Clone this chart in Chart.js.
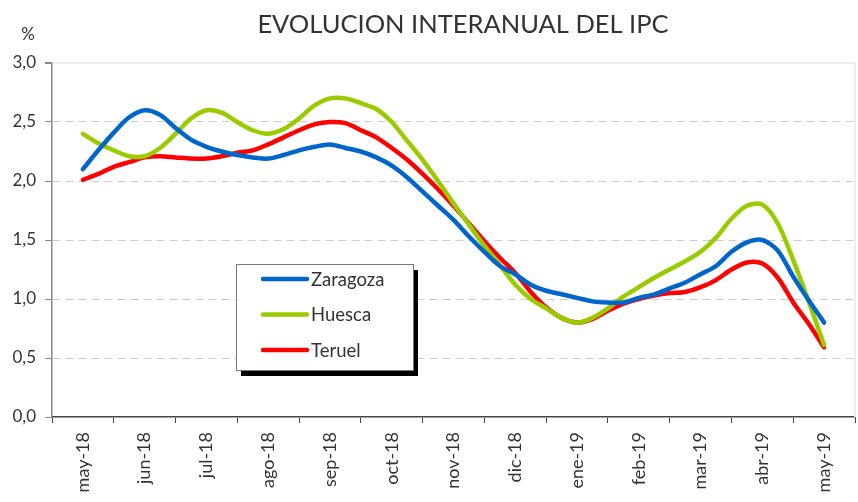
<!DOCTYPE html>
<html>
<head>
<meta charset="utf-8">
<script src="https://cdn.jsdelivr.net/npm/chart.js@4"></script>
<style>
  html, body { margin: 0; padding: 0; background: #fff; }
  #wrap { width: 858px; height: 502px; }
</style>
</head>
<body>
<div id="wrap"><canvas id="ipcChart"></canvas></div>
<script>
// Month labels on the x axis
const months = ['may-18', 'jun-18', 'jul-18', 'ago-18', 'sep-18', 'oct-18', 'nov-18',
                'dic-18', 'ene-19', 'feb-19', 'mar-19', 'abr-19', 'may-19'];

// Position of each reading, in months from may-18 (one reading per quarter month)
const steps = [0, 0.25, 0.5, 0.75, 1, 1.25, 1.5, 1.75, 2, 2.25, 2.5, 2.75, 3, 3.25, 3.5, 3.75,
               4, 4.25, 4.5, 4.75, 5, 5.25, 5.5, 5.75, 6, 6.25, 6.5, 6.75, 7, 7.25, 7.5, 7.75,
               8, 8.25, 8.5, 8.75, 9, 9.25, 9.5, 9.75, 10, 10.25, 10.5, 10.75, 11, 11.25, 11.5, 11.75, 12];

const zaragoza = [2.10, 2.26, 2.41, 2.54, 2.60, 2.56, 2.45, 2.35, 2.29, 2.25, 2.22, 2.20, 2.19, 2.22, 2.26, 2.29,
                  2.31, 2.28, 2.25, 2.20, 2.13, 2.03, 1.91, 1.79, 1.67, 1.53, 1.40, 1.28, 1.21, 1.12, 1.07, 1.04,
                  1.01, 0.98, 0.97, 0.97, 1.01, 1.04, 1.09, 1.14, 1.21, 1.28, 1.40, 1.48, 1.50, 1.41, 1.19, 0.99, 0.80];

const huesca = [2.40, 2.32, 2.26, 2.21, 2.21, 2.28, 2.40, 2.53, 2.60, 2.58, 2.50, 2.43, 2.40, 2.44, 2.53, 2.64,
                2.70, 2.70, 2.66, 2.61, 2.50, 2.34, 2.18, 2.00, 1.81, 1.63, 1.45, 1.29, 1.12, 1.00, 0.92, 0.84,
                0.80, 0.84, 0.92, 1.02, 1.10, 1.18, 1.25, 1.32, 1.40, 1.52, 1.68, 1.79, 1.80, 1.64, 1.33, 0.98, 0.61];

const teruel = [2.01, 2.06, 2.12, 2.16, 2.20, 2.21, 2.20, 2.19, 2.19, 2.21, 2.24, 2.26, 2.31, 2.37, 2.43, 2.48,
                2.50, 2.49, 2.43, 2.37, 2.28, 2.18, 2.06, 1.93, 1.79, 1.64, 1.49, 1.35, 1.22, 1.06, 0.93, 0.84,
                0.80, 0.83, 0.90, 0.96, 1.00, 1.03, 1.05, 1.06, 1.10, 1.16, 1.25, 1.31, 1.30, 1.18, 0.97, 0.79, 0.59];

const toPoints = vals => vals.map((v, i) => ({ x: steps[i], y: v }));

const FONT = 'Lato, "Open Sans", sans-serif';
const TEXT = '#333333';

// title, "%" label, light frame and the boxed legend
const decorPlugin = {
    id: 'decor',
    afterDraw(chart) {
        const { ctx, chartArea } = chart;
        ctx.save();
        ctx.strokeStyle = '#eeeeee';
        ctx.lineWidth = 2;
        ctx.beginPath();
        ctx.moveTo(chartArea.right, chartArea.top);
        ctx.lineTo(chartArea.right, chartArea.bottom);
        ctx.stroke();

        ctx.fillStyle = TEXT;
        ctx.textBaseline = 'middle';
        ctx.textAlign = 'center';
        ctx.font = '25.5px ' + FONT;
        ctx.fillText('EVOLUCION INTERANUAL DEL IPC', 463, 25);
        ctx.font = '17px ' + FONT;
        ctx.fillText('%', 28, 35);

        // legend box
        const bx = 236, by = 264, bw = 177, bh = 106;
        ctx.fillStyle = '#000';
        ctx.fillRect(bx + 5, by + 6, bw, bh);
        ctx.fillStyle = '#fff';
        ctx.fillRect(bx, by, bw, bh);
        ctx.strokeStyle = '#777';
        ctx.lineWidth = 1;
        ctx.strokeRect(bx + 0.5, by + 0.5, bw, bh);

        ctx.textAlign = 'left';
        ctx.font = '18.5px ' + FONT;
        chart.data.datasets.forEach((ds, i) => {
            const y = 279 + i * 35.5;
            ctx.strokeStyle = ds.borderColor;
            ctx.lineWidth = 4.5;
            ctx.lineCap = 'round';
            ctx.beginPath();
            ctx.moveTo(263, y);
            ctx.lineTo(307, y);
            ctx.stroke();
            ctx.fillStyle = TEXT;
            ctx.fillText(ds.label, 311, y + 1);
        });
        ctx.restore();
    }
};

const lineStyle = {
    borderWidth: 4.5,
    pointRadius: 0,
    tension: 0.3,
    borderCapStyle: 'round',
    borderJoinStyle: 'round',
    xAxisID: 'xv'
};

new Chart(document.getElementById('ipcChart'), {
    type: 'line',
    data: {
        labels: months,
        datasets: [
            { label: 'Zaragoza', data: toPoints(zaragoza), borderColor: '#0066CC', ...lineStyle },
            { label: 'Huesca', data: toPoints(huesca), borderColor: '#99CC00', ...lineStyle },
            { label: 'Teruel', data: toPoints(teruel), borderColor: '#FF0000', ...lineStyle }
        ]
    },
    options: {
        responsive: true,
        maintainAspectRatio: false,
        animation: false,
        layout: { padding: { top: 63, right: 3, left: 0, bottom: 0 } },
        plugins: {
            legend: { display: false },
            tooltip: { enabled: false }
        },
        scales: {
            x: {
                type: 'category',
                labels: months,
                offset: true,
                grid: { offset: true, drawOnChartArea: false, color: '#444', tickLength: 6 },
                border: { color: '#444', width: 1.5 },
                ticks: {
                    minRotation: 90,
                    maxRotation: 90,
                    autoSkip: false,
                    padding: 9,
                    color: TEXT,
                    font: { family: FONT, size: 18 }
                },
                afterFit: s => { s.height = 85; }
            },
            xv: {
                type: 'linear',
                axis: 'x',
                display: false,
                min: -0.5,
                max: 12.5
            },
            y: {
                min: 0,
                max: 3,
                ticks: {
                    stepSize: 0.5,
                    padding: 9,
                    color: TEXT,
                    font: { family: FONT, size: 17 },
                    callback: v => v.toFixed(1).replace('.', ',')
                },
                grid: {
                    color: c => c.tick.value === 0 ? 'rgba(0,0,0,0)' : (c.tick.value === 3 ? '#eeeeee' : '#cccccc'),
                    lineWidth: c => c.tick.value === 3 ? 2 : 1,
                    tickColor: '#888',
                    tickLength: 7
                },
                border: {
                    color: '#888',
                    width: 1.5,
                    dash: c => (c.tick && c.tick.value === 3) ? [] : [8, 5]
                },
                afterFit: s => { s.width = 52; }
            }
        }
    },
    plugins: [decorPlugin]
});
</script>
</body>
</html>
